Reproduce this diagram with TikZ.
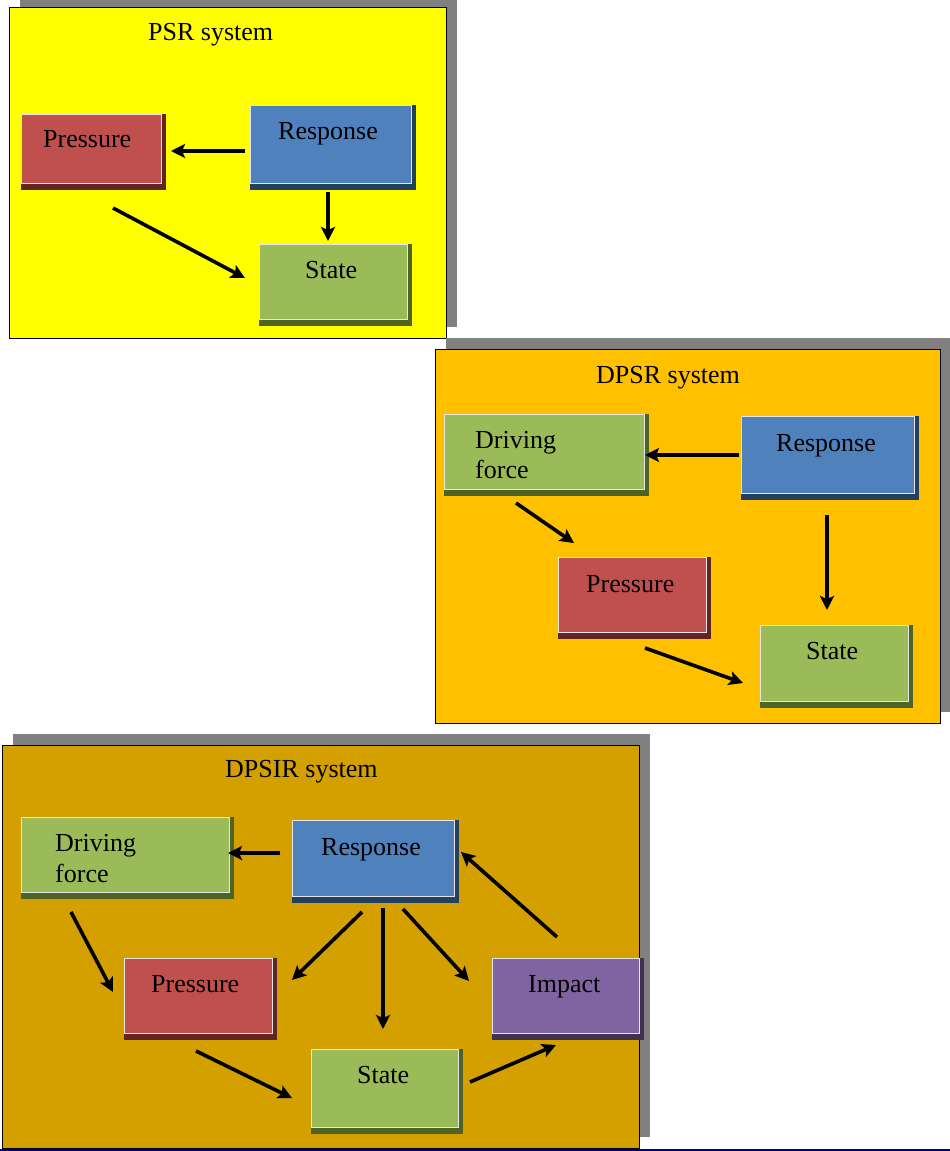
\documentclass[tikz,border=0pt]{standalone}
\usepackage{fontspec}
\setmainfont{Liberation Serif}
\usetikzlibrary{arrows.meta,fit}
\definecolor{psrbg}{RGB}{255,255,0}
\definecolor{dpsrbg}{RGB}{255,192,0}
\definecolor{dpsirbg}{RGB}{211,160,0}
\definecolor{pshadow}{RGB}{128,128,128}
\definecolor{redf}{RGB}{192,80,77}
\definecolor{redsh}{RGB}{99,37,35}
\definecolor{bluef}{RGB}{79,129,189}
\definecolor{bluesh}{RGB}{36,64,97}
\definecolor{greenf}{RGB}{155,187,89}
\definecolor{greensh}{RGB}{79,98,40}
\definecolor{purpf}{RGB}{128,100,162}
\definecolor{purpsh}{RGB}{63,49,81}
\definecolor{bline}{RGB}{0,0,128}
\tikzset{
  panelbox/.style={draw=black, line width=1pt, inner sep=0pt},
  ebox/.style={draw=white!80!gray, line width=1pt, inner sep=0pt},
  lbl/.style={font=\fontsize{26}{31}\selectfont, inner sep=0pt, anchor=base west, text=black},
  conn/.style={line width=3.6pt, -{Stealth[length=14pt,width=14pt,inset=3pt]}},
}
\newcommand\mkbox[7]{%
  \fill[#7] (#2,#3) rectangle ({#4+5},{#5+7});
  \coordinate (#1-nw) at (#2,#3);
  \coordinate (#1-se) at (#4,#5);
  \node[ebox, fill=#6, fit=(#1-nw)(#1-se)] (#1) {};
}
\newcommand\mkpanel[6]{%
  \fill[pshadow] ({#2+11},{#3-11}) rectangle ({#4+11},{#5-11});
  \coordinate (#1-nw) at (#2,#3);
  \coordinate (#1-se) at (#4,#5);
  \node[panelbox, fill=#6, fit=(#1-nw)(#1-se)] (#1) {};
}
\begin{document}
\begin{tikzpicture}[x=1pt,y=-1pt]
\useasboundingbox (0,0) rectangle (950,1151);
\fill[white] (0,0) rectangle (950,1151);

% ---------- PSR ----------
\mkpanel{psr}{9}{7}{446}{338}{psrbg}
\node[lbl] (psrtitle) at (148,40) {PSR system};
\mkbox{aP}{21}{114}{161}{183}{redf}{redsh}
\mkbox{aR}{250}{105}{411}{183}{bluef}{bluesh}
\mkbox{aS}{259}{244}{407}{319}{greenf}{greensh}
\node[lbl] (aPt) at (43,147) {Pressure};
\node[lbl] (aRt) at (278,139) {Response};
\node[lbl] (aSt) at (305,278) {State};
\coordinate (a1s) at (245,151); \coordinate (a1e) at (171,151);
\coordinate (a2s) at (328,192); \coordinate (a2e) at (328,241);
\coordinate (a3s) at (113,208); \coordinate (a3e) at (245,278);
\draw[conn] (a1s) -- (a1e);
\draw[conn] (a2s) -- (a2e);
\draw[conn] (a3s) -- (a3e);

% ---------- DPSR ----------
\mkpanel{dpsr}{435}{349}{940}{723}{dpsrbg}
\node[lbl] (dpsrtitle) at (596,383) {DPSR system};
\mkbox{bD}{444}{414}{644}{489}{greenf}{greensh}
\mkbox{bR}{741}{416}{914}{493}{bluef}{bluesh}
\mkbox{bP}{558}{557}{706}{632}{redf}{redsh}
\mkbox{bS}{760}{625}{908}{701}{greenf}{greensh}
\node[lbl] (bDt1) at (475,448) {Driving};
\node[lbl] (bDt2) at (475,478) {force};
\node[lbl] (bRt) at (776,451) {Response};
\node[lbl] (bPt) at (586,592) {Pressure};
\node[lbl] (bSt) at (806,659) {State};
\coordinate (b1s) at (739,455); \coordinate (b1e) at (645,455);
\coordinate (b2s) at (516,503); \coordinate (b2e) at (574,543);
\coordinate (b3s) at (827,515); \coordinate (b3e) at (827,610);
\coordinate (b4s) at (645,648); \coordinate (b4e) at (743,683);
\draw[conn] (b1s) -- (b1e);
\draw[conn] (b2s) -- (b2e);
\draw[conn] (b3s) -- (b3e);
\draw[conn] (b4s) -- (b4e);

% ---------- DPSIR ----------
\mkpanel{dpsir}{2}{745}{639}{1148}{dpsirbg}
\node[lbl] (dpsirtitle) at (225,777) {DPSIR system};
\mkbox{cD}{21}{817}{229}{892}{greenf}{greensh}
\mkbox{cR}{292}{820}{454}{896}{bluef}{bluesh}
\mkbox{cP}{124}{958}{272}{1033}{redf}{redsh}
\mkbox{cI}{492}{958}{639}{1033}{purpf}{purpsh}
\mkbox{cS}{311}{1049}{458}{1127}{greenf}{greensh}
\node[lbl] (cDt1) at (55,851) {Driving};
\node[lbl] (cDt2) at (55,882) {force};
\node[lbl] (cRt) at (321,855) {Response};
\node[lbl] (cPt) at (151,992) {Pressure};
\node[lbl] (cIt) at (528,992) {Impact};
\node[lbl] (cSt) at (357,1083) {State};
\coordinate (c1s) at (280,853); \coordinate (c1e) at (228,853);
\coordinate (c2s) at (71,912);  \coordinate (c2e) at (113,992);
\coordinate (c3s) at (362,912); \coordinate (c3e) at (292,980);
\coordinate (c4s) at (383,908); \coordinate (c4e) at (383,1029);
\coordinate (c5s) at (403,909); \coordinate (c5e) at (469,981);
\coordinate (c6s) at (557,937); \coordinate (c6e) at (461,852);
\coordinate (c7s) at (196,1051); \coordinate (c7e) at (292,1098);
\coordinate (c8s) at (470,1082); \coordinate (c8e) at (556,1045);
\draw[conn] (c1s) -- (c1e);
\draw[conn] (c2s) -- (c2e);
\draw[conn] (c3s) -- (c3e);
\draw[conn] (c4s) -- (c4e);
\draw[conn] (c5s) -- (c5e);
\draw[conn] (c6s) -- (c6e);
\draw[conn] (c7s) -- (c7e);
\draw[conn] (c8s) -- (c8e);

% bottom rule
\draw[bline, line width=1.2pt] (0,1150) -- (950,1150);
\end{tikzpicture}
\end{document}
